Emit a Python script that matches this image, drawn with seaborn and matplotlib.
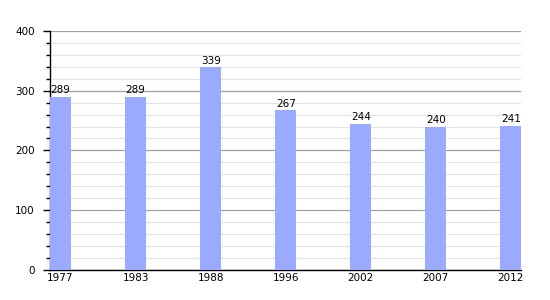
import matplotlib
matplotlib.use("Agg")
import matplotlib.pyplot as plt
import seaborn as sns
import pandas as pd
from matplotlib.ticker import MultipleLocator

years = ["1977", "1983", "1988", "1996", "2002", "2007", "2012"]
values = [289, 289, 339, 267, 244, 240, 241]

df = pd.DataFrame({"year": years, "value": values})

sns.set_style("white")
plt.rcParams['font.family'] = ['DejaVu Sans']
plt.rcParams['text.color'] = 'black'
plt.rcParams['xtick.color'] = 'black'
plt.rcParams['ytick.color'] = 'black'

fig = plt.figure(figsize=(5.5, 3.0), dpi=100)
ax = fig.add_axes([0.091, 0.1, 0.857, 0.797])

sns.barplot(data=df, x="year", y="value", color="#99aaff", saturation=1,
            width=0.28, ax=ax, zorder=3, linewidth=0, edgecolor="none")

ax.set_ylim(0, 400)
ax.set_xlim(-0.14, 6.14)
ax.yaxis.set_major_locator(MultipleLocator(100))
ax.yaxis.set_minor_locator(MultipleLocator(20))
ax.grid(which="major", axis="y", color="#a0a0a0", linewidth=0.9, zorder=0)
ax.grid(which="minor", axis="y", color="#e4e4e4", linewidth=0.9, zorder=0)
ax.set_axisbelow(True)

for s in ["top", "right"]:
    ax.spines[s].set_visible(False)
for s in ["left", "bottom"]:
    ax.spines[s].set_color("black")
    ax.spines[s].set_linewidth(1.0)

ax.tick_params(axis="y", which="major", length=5, width=1, colors="black",
               labelsize=7.5, left=True, direction="out", pad=6)
ax.tick_params(axis="y", which="minor", length=3, width=1, colors="black", left=True)
ax.tick_params(axis="x", length=0, labelsize=7.5, pad=2, colors="black")

ax.set_xlabel("")
ax.set_ylabel("")

for i, v in enumerate(values):
    ax.text(i, v + 3, str(v), ha="center", va="bottom", fontsize=7.5,
            color="black", zorder=4)

fig.savefig("out.png", dpi=100)
